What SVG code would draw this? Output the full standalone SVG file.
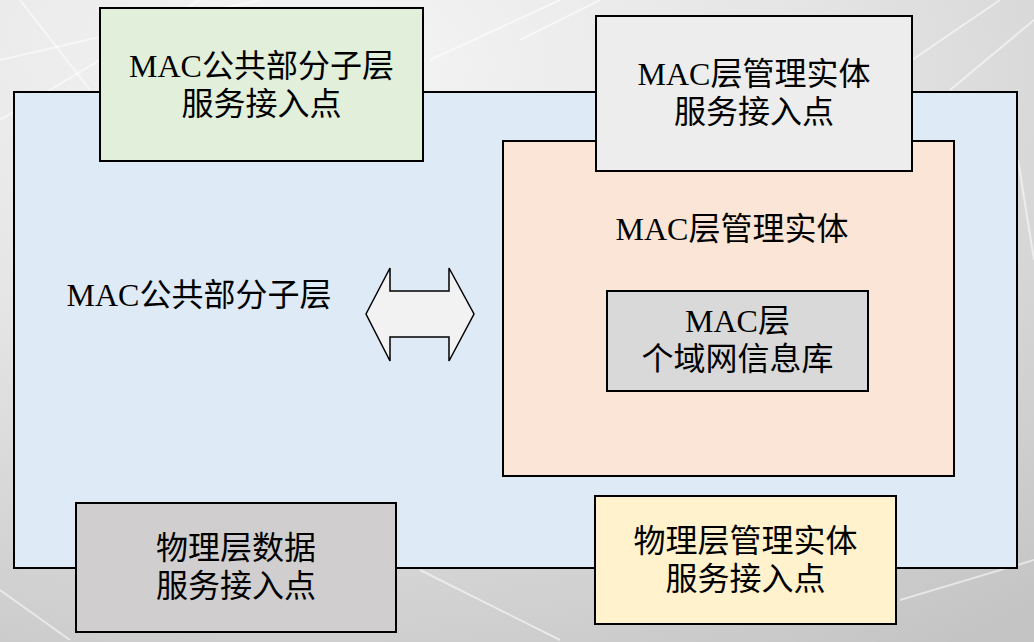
<svg xmlns="http://www.w3.org/2000/svg" width="1034" height="642" viewBox="0 0 1034 642">
  <defs>
    <radialGradient id="bg" cx="0.3" cy="0.1" r="1.1">
      <stop offset="0" stop-color="#f6f6f6"/>
      <stop offset="0.45" stop-color="#e4e4e4"/>
      <stop offset="1" stop-color="#c4c4c4"/>
    </radialGradient>
    <linearGradient id="ray" x1="0" y1="0" x2="1" y2="0">
      <stop offset="0" stop-color="#ffffff" stop-opacity="0"/>
      <stop offset="0.5" stop-color="#ffffff" stop-opacity="0.7"/>
      <stop offset="1" stop-color="#ffffff" stop-opacity="0"/>
    </linearGradient>
  </defs>
  <style>
    .box { stroke: #000000; stroke-width: 2; }
    .t { font-family: "Liberation Serif", "Noto Sans CJK SC", serif; font-size: 32px; fill: #000000; text-anchor: middle; }
    .ray { stroke: #ffffff; stroke-opacity: 0.55; stroke-width: 2; fill: none; }
  </style>

  <!-- background -->
  <rect x="0" y="0" width="1034" height="642" fill="url(#bg)"/>
  <g id="background-rays">
    <line class="ray" x1="0" y1="60" x2="260" y2="0"/>
    <line class="ray" x1="0" y1="120" x2="200" y2="0"/>
    <line class="ray" x1="20" y1="0" x2="90" y2="90"/>
    <line class="ray" x1="430" y1="60" x2="560" y2="0"/>
    <line class="ray" x1="520" y1="40" x2="600" y2="0"/>
    <line class="ray" x1="912" y1="60" x2="1000" y2="0"/>
    <line class="ray" x1="950" y1="90" x2="1034" y2="20"/>
    <line class="ray" x1="1018" y1="160" x2="1034" y2="260"/>
    <line class="ray" x1="0" y1="590" x2="70" y2="640"/>
    <line class="ray" x1="420" y1="570" x2="560" y2="640"/>
    <line class="ray" x1="900" y1="600" x2="1034" y2="560"/>
  </g>

  <g id="mac-common-part-sublayer">
    <rect class="box" x="14" y="92" width="1003" height="476" fill="#deeaf6"/>
    <text class="t" x="199" y="306">MAC公共部分子层</text>
  </g>

  <g id="mac-sap">
    <rect class="box" x="100" y="8" width="323" height="153" fill="#e2efda"/>
    <text class="t" x="261.5" y="77">MAC公共部分子层</text>
    <text class="t" x="261.5" y="115">服务接入点</text>
  </g>

  <g id="mac-layer-management-entity">
    <rect class="box" x="503" y="141" width="451" height="335" fill="#fbe5d6"/>
    <text class="t" x="732" y="240">MAC层管理实体</text>
  </g>

  <g id="mlme-sap">
    <rect class="box" x="596" y="16" width="316" height="155" fill="#ededed"/>
    <text class="t" x="754" y="85">MAC层管理实体</text>
    <text class="t" x="754" y="123">服务接入点</text>
  </g>

  <g id="mac-pib">
    <rect class="box" x="607" y="291" width="261" height="100" fill="#d9d9d9"/>
    <text class="t" x="737.5" y="331.5">MAC层</text>
    <text class="t" x="737.5" y="369.5">个域网信息库</text>
  </g>

  <g id="phy-data-sap">
    <rect class="box" x="76" y="503" width="320" height="129" fill="#d0cece"/>
    <text class="t" x="236" y="559">物理层数据</text>
    <text class="t" x="236" y="597">服务接入点</text>
  </g>

  <g id="phy-management-sap">
    <rect class="box" x="595" y="496" width="301" height="128" fill="#fff2cc"/>
    <text class="t" x="745.5" y="552">物理层管理实体</text>
    <text class="t" x="745.5" y="590">服务接入点</text>
  </g>

  <g id="connectors">
    <polygon points="366,314 390,268 390,291 449,291 449,268 474,314 449,361 449,337 390,337 390,361" fill="#f2f2f2" stroke="#000000" stroke-width="1.5" stroke-linejoin="miter"/>
  </g>
</svg>
